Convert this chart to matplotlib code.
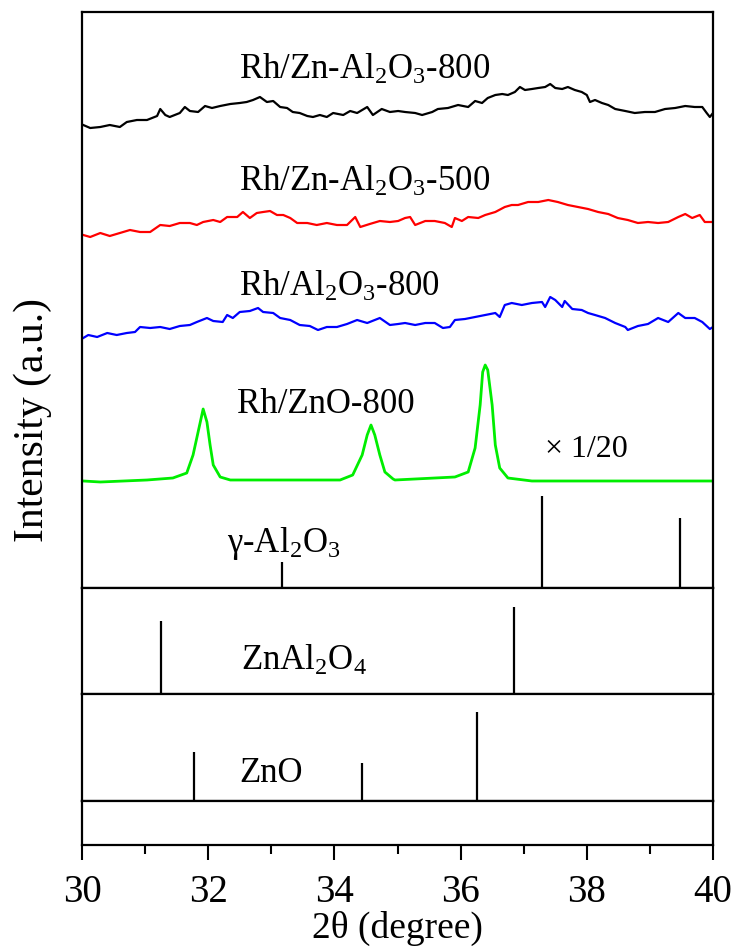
import matplotlib
matplotlib.use("Agg")
import matplotlib.pyplot as plt
from matplotlib.ticker import MultipleLocator

plt.rcParams["font.family"] = ["Liberation Serif", "DejaVu Serif"]
plt.rcParams["mathtext.fontset"] = "custom"
plt.rcParams["mathtext.rm"] = "Liberation Serif"
plt.rcParams["mathtext.it"] = "Liberation Serif"

# Rh/Zn-Al2O3-800 (black), stacked intensity (a.u.)
zal800_x = [30.02, 30.13, 30.29, 30.44, 30.60, 30.71, 30.87, 31.03, 31.19, 31.24, 31.32, 31.39,
            31.55, 31.63, 31.71, 31.84, 31.95, 32.06, 32.19, 32.35, 32.50, 32.61, 32.71, 32.82,
            32.93, 33.03, 33.14, 33.25, 33.34, 33.45, 33.57, 33.66, 33.77, 33.88, 33.98, 34.14,
            34.25, 34.36, 34.52, 34.61, 34.75, 34.88, 35.01, 35.12, 35.28, 35.39, 35.55, 35.64,
            35.80, 35.96, 36.12, 36.23, 36.34, 36.43, 36.55, 36.66, 36.75, 36.86, 36.94, 37.02,
            37.13, 37.23, 37.34, 37.42, 37.50, 37.61, 37.70, 37.81, 37.92, 38.00, 38.05, 38.13,
            38.24, 38.34, 38.45, 38.61, 38.76, 38.92, 39.08, 39.24, 39.40, 39.56, 39.71, 39.83,
            39.90, 39.95, 40.00]
zal800_y = [463, 460, 461, 463, 461, 466, 468, 468, 472, 479, 473, 471,
            475, 481, 477, 476, 482, 480, 482, 484, 485, 486, 488, 491,
            486, 487, 481, 480, 476, 475, 472, 471, 473, 471, 475, 473,
            477, 475, 481, 473, 479, 476, 477, 476, 475, 473, 476, 479,
            480, 483, 481, 487, 485, 490, 493, 494, 493, 496, 501, 498,
            499, 500, 501, 504, 500, 499, 501, 498, 496, 493, 486, 488,
            485, 483, 479, 477, 475, 476, 476, 479, 480, 482, 481, 481,
            475, 471, 475]

# Rh/Zn-Al2O3-500 (red)
zal500_x = [30.02, 30.13, 30.29, 30.44, 30.60, 30.76, 30.92, 31.08, 31.24, 31.39, 31.55, 31.71,
            31.82, 31.92, 32.08, 32.19, 32.30, 32.46, 32.55, 32.66, 32.77, 32.87, 32.98, 33.09,
            33.19, 33.30, 33.41, 33.57, 33.72, 33.88, 34.04, 34.20, 34.33, 34.41, 34.56, 34.72,
            34.88, 35.01, 35.12, 35.20, 35.28, 35.44, 35.59, 35.75, 35.86, 35.91, 36.02, 36.12,
            36.28, 36.39, 36.55, 36.70, 36.81, 36.91, 37.07, 37.23, 37.39, 37.54, 37.70, 37.86,
            38.02, 38.18, 38.34, 38.49, 38.65, 38.81, 38.97, 39.13, 39.29, 39.45, 39.56, 39.67,
            39.79, 39.87, 39.98]
zal500_y = [353, 351, 355, 352, 355, 358, 356, 356, 363, 362, 365, 365,
            363, 366, 368, 366, 371, 371, 376, 370, 375, 376, 377, 373,
            373, 370, 365, 365, 363, 365, 363, 363, 371, 361, 364, 367,
            366, 367, 370, 371, 363, 367, 367, 365, 361, 370, 367, 371,
            370, 373, 376, 381, 383, 383, 386, 386, 388, 386, 383, 381,
            379, 376, 374, 370, 368, 365, 366, 365, 366, 371, 374, 370,
            373, 366, 366]

# Rh/Al2O3-800 (blue)
al800_x = [30.02, 30.10, 30.24, 30.40, 30.55, 30.71, 30.84, 30.92, 31.08, 31.24, 31.39, 31.55,
           31.71, 31.82, 31.98, 32.08, 32.23, 32.30, 32.39, 32.50, 32.66, 32.79, 32.87, 33.03,
           33.14, 33.30, 33.45, 33.61, 33.74, 33.88, 34.04, 34.20, 34.36, 34.52, 34.72, 34.88,
           35.01, 35.12, 35.28, 35.44, 35.59, 35.72, 35.83, 35.91, 36.07, 36.23, 36.39, 36.55,
           36.62, 36.70, 36.81, 36.97, 37.13, 37.29, 37.34, 37.42, 37.50, 37.61, 37.65, 37.77,
           37.92, 38.02, 38.13, 38.29, 38.45, 38.61, 38.65, 38.81, 38.97, 39.13, 39.29, 39.45,
           39.56, 39.71, 39.83, 39.95, 40.00]
al800_y = [250, 253, 251, 255, 253, 255, 256, 261, 260, 261, 259, 262,
           263, 266, 270, 267, 266, 273, 270, 276, 277, 280, 276, 275,
           270, 268, 263, 262, 258, 261, 261, 264, 268, 265, 270, 263,
           264, 265, 263, 265, 265, 260, 261, 268, 269, 271, 273, 275,
           271, 283, 285, 283, 285, 286, 281, 291, 288, 281, 287, 279,
           278, 275, 273, 270, 265, 261, 258, 262, 264, 270, 266, 275,
           270, 270, 266, 259, 261]

# Rh/ZnO-800 (green, x 1/20)
zno800_x = [30.02, 30.29, 31.03, 31.44, 31.66, 31.76, 31.84, 31.92, 31.98, 32.03, 32.08, 32.19,
            32.35, 33.14, 34.09, 34.29, 34.44, 34.52, 34.58, 34.64, 34.72, 34.80, 34.93, 34.96,
            35.91, 36.12, 36.23, 36.31, 36.35, 36.39, 36.43, 36.50, 36.55, 36.62, 36.75, 37.13,
            39.98]
zno800_y = [107, 106, 108, 110, 115, 133, 156, 179, 166, 143, 123, 111,
            108, 108, 108, 113, 133, 153, 163, 153, 133, 116, 109, 108,
            111, 116, 140, 183, 216, 223, 218, 183, 143, 120, 110, 107,
            107]

# reference patterns (stick positions / heights)
gal_pos = [33.17, 37.29, 39.48]
gal_int = [26, 92, 70]
spinel_pos = [31.25, 36.84]
spinel_int = [73, 87]
zno_pos = [31.77, 34.43, 36.26]
zno_int = [49, 38, 89]

fig, axes = plt.subplots(4, 1, figsize=(7.39, 9.51), dpi=100, sharex=True,
                         gridspec_kw={"height_ratios": [576, 106, 107, 44], "hspace": 0})
fig.subplots_adjust(left=82 / 739, right=713 / 739, top=1 - 12 / 951, bottom=1 - 845 / 951)
ax, ax2, ax3, ax4 = axes

lw = 1.6
ax.plot(zal800_x, zal800_y, color="black", lw=lw)
ax.plot(zal500_x, zal500_y, color="red", lw=lw)
ax.plot(al800_x, al800_y, color="blue", lw=lw)
ax.plot(zno800_x, zno800_y, color="#00ee00", lw=2.0)
ax.vlines(gal_pos, 0, gal_int, color="black", lw=1.6)
ax.set_ylim(0, 576)

ax2.vlines(spinel_pos, 0, spinel_int, color="black", lw=1.6)
ax2.set_ylim(0, 106)
ax3.vlines(zno_pos, 0, zno_int, color="black", lw=1.6)
ax3.set_ylim(0, 107)
ax4.set_ylim(0, 44)

for a in axes:
    a.set_xlim(30, 40)
    a.set_yticks([])
    for s in a.spines.values():
        s.set_linewidth(1.6)
    a.tick_params(axis="x", which="both", bottom=False, top=False)

ax4.tick_params(axis="x", which="major", bottom=True, direction="out", length=11,
                width=1.5, labelsize=28, pad=10)
ax4.tick_params(axis="x", which="minor", bottom=True, direction="out", length=6.5, width=1.5)
ax4.xaxis.set_major_locator(MultipleLocator(2))
ax4.xaxis.set_minor_locator(MultipleLocator(1))
ax4.set_xlabel("2θ (degree)", fontsize=27, labelpad=0)

fs = 25
ax.text(32.49, 509, r"Rh/Zn-Al$_2$O$_3$-800", fontsize=fs, va="baseline")
ax.text(32.49, 397, r"Rh/Zn-Al$_2$O$_3$-500", fontsize=fs, va="baseline")
ax.text(32.49, 292, r"Rh/Al$_2$O$_3$-800", fontsize=fs, va="baseline")
ax.text(32.46, 175, "Rh/ZnO-800", fontsize=fs, va="baseline")
ax.text(37.34, 131, "× 1/20", fontsize=23, va="baseline")
ax.text(32.30, 36, r"γ-Al$_2$O$_3$", fontsize=fs, va="baseline")
ax2.text(32.52, 24, r"ZnAl$_2$O$_4$", fontsize=fs, va="baseline")
ax3.text(32.50, 19, "ZnO", fontsize=fs, va="baseline")

fig.text(33 / 739, 1 - 420 / 951, "Intensity (a.u.)", rotation=90, fontsize=30,
         ha="center", va="center")

fig.savefig("out.png", dpi=100)
